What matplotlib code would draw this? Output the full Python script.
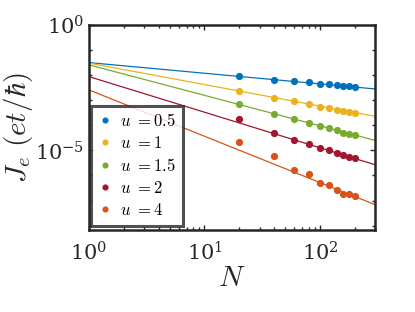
import numpy as np
import matplotlib
matplotlib.use('Agg')
import matplotlib.pyplot as plt
from matplotlib.ticker import LogLocator, NullFormatter, FixedLocator

plt.rcParams['mathtext.fontset'] = 'cm'
plt.rcParams['font.family'] = 'serif'
plt.rcParams['font.serif'] = ['DejaVu Serif']

N = [20, 40, 60, 80, 100, 120, 140, 160, 180, 200]
u_labels = ['0.5', '1', '1.5', '2', '4']
colors = ['#0072BD', '#EDB120', '#77AC30', '#A2142F', '#D95319']

logJ_u05 = [-2.04, -2.18, -2.25, -2.29, -2.34, -2.37, -2.39, -2.43, -2.45, -2.46]
logJ_u1 = [-2.62, -2.91, -3.04, -3.16, -3.25, -3.32, -3.37, -3.44, -3.48, -3.50]
logJ_u15 = [-3.15, -3.54, -3.74, -3.90, -4.04, -4.12, -4.18, -4.29, -4.33, -4.37]
logJ_u2 = [-3.74, -4.31, -4.58, -4.73, -4.91, -5.00, -5.11, -5.20, -5.27, -5.29]
logJ_u4 = [-4.67, -5.24, -5.77, -5.96, -6.30, -6.36, -6.56, -6.75, -6.72, -6.81]
points = [logJ_u05, logJ_u1, logJ_u15, logJ_u2, logJ_u4]

# power-law fit lines, endpoints at N=1 and N=300 (log10 J_e)
fit_N = [1, 300]
fit_u05 = [-1.50, -2.55]
fit_u1 = [-1.52, -3.64]
fit_u15 = [-1.59, -4.60]
fit_u2 = [-2.06, -5.57]
fit_u4 = [-2.59, -7.16]
fits = [fit_u05, fit_u1, fit_u15, fit_u2, fit_u4]

fig = plt.figure(figsize=(4.15, 3.12), dpi=100)
ax = fig.add_axes([0.2145, 0.263, 0.689, 0.657])

for lab, c, pts, ft in zip(u_labels, colors, points, fits):
    ax.plot(fit_N, 10.0 ** np.array(ft), color=c, lw=0.9)
    ax.plot(N, 10.0 ** np.array(pts), 'o', color=c, ms=5.2, mec='none',
            label=r'$u\ {=}' + lab + '$')

ax.set_xscale('log')
ax.set_yscale('log')
ax.set_xlim(1, 300)
ax.set_ylim(10 ** -8.17, 1)

ax.yaxis.set_major_locator(FixedLocator([1e-5, 1e0]))
ax.yaxis.set_minor_locator(FixedLocator([10.0 ** k for k in range(-8, 0)]))
ax.yaxis.set_minor_formatter(NullFormatter())
ax.xaxis.set_major_locator(LogLocator(base=10, numticks=5))
ax.xaxis.set_minor_locator(LogLocator(base=10, subs=np.arange(2, 10), numticks=10))
ax.xaxis.set_minor_formatter(NullFormatter())

ax.tick_params(which='both', direction='in', top=True, right=True,
               colors='#262626', labelcolor='#262626', labelsize=15, width=1)
ax.tick_params(which='major', length=3.5)
ax.tick_params(which='minor', length=2.2)
ax.tick_params(axis='x', pad=8)
for s in ax.spines.values():
    s.set_linewidth(1.8)
    s.set_color('#262626')

ax.set_xlabel(r'$N$', fontsize=21, color='#262626', labelpad=0)
ax.set_ylabel(r'$J_e\ (et/\hbar)$', fontsize=21, color='#262626')
ax.yaxis.set_label_coords(-0.19, 0.5)

leg = ax.legend(loc='lower left', bbox_to_anchor=(0.008, 0.02), fontsize=12,
                frameon=True, fancybox=False, borderaxespad=0,
                handlelength=0.8, handletextpad=0.55, labelspacing=0.32,
                borderpad=0.4, markerscale=0.85)
leg.get_frame().set_edgecolor('#262626')
leg.get_frame().set_linewidth(2.2)

fig.savefig('out.png', dpi=100)
